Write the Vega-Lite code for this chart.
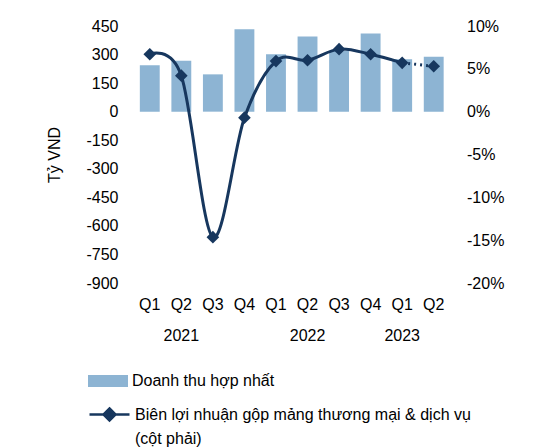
{
  "$schema": "https://vega.github.io/schema/vega-lite/v6.json",
  "autosize": {"type": "none"},
  "padding": {"left": 134, "top": 26, "right": 105.5, "bottom": 165},
  "width": 315.5,
  "height": 257,
  "background": "white",
  "config": {
    "font": "Liberation Sans",
    "view": {"stroke": null},
    "axis": {"grid": false, "domain": false, "ticks": false, "labelFont": "Liberation Sans", "labelFontSize": 16, "labelColor": "black", "titleFont": "Liberation Sans", "titleFontSize": 16, "titleFontWeight": "normal", "titleColor": "black"},
    "legend": {"labelFont": "Liberation Sans", "labelFontSize": 16, "labelColor": "black", "labelLimit": 0}
  },
  "data": {
    "values": [
      {"key": "2021-Q1", "revenue": 244, "margin": 6.7},
      {"key": "2021-Q2", "revenue": 268, "margin": 4.2},
      {"key": "2021-Q3", "revenue": 196, "margin": -14.65},
      {"key": "2021-Q4", "revenue": 433, "margin": -0.7},
      {"key": "2022-Q1", "revenue": 301, "margin": 5.9},
      {"key": "2022-Q2", "revenue": 395, "margin": 6.0},
      {"key": "2022-Q3", "revenue": 320, "margin": 7.3},
      {"key": "2022-Q4", "revenue": 410, "margin": 6.7},
      {"key": "2023-Q1", "revenue": 275, "margin": 5.7},
      {"key": "2023-Q2", "revenue": 288, "margin": 5.3}
    ]
  },
  "encoding": {
    "x": {"field": "key", "type": "ordinal", "sort": null, "scale": {"paddingInner": 0, "paddingOuter": 0}}
  },
  "layer": [
    {
      "mark": {"type": "bar", "width": {"band": 0.63}},
      "encoding": {
        "x": {"field": "key", "type": "ordinal", "sort": null, "title": null,
              "axis": {"orient": "bottom", "labelAngle": 0, "labelPadding": 13, "labelExpr": "slice(datum.label, 5)"}},
        "y": {"field": "revenue", "type": "quantitative", "title": "Tỷ VND",
              "scale": {"domain": [-900, 450], "nice": false, "zero": false},
              "axis": {"orient": "left", "values": [-900, -750, -600, -450, -300, -150, 0, 150, 300, 450], "labelPadding": 16, "titlePadding": 23, "labelExpr": "'' + datum.value"}},
        "fill": {"datum": "Doanh thu hợp nhất", "type": "nominal",
                 "scale": {"range": ["#8db4d3"]},
                 "legend": {"title": null, "orient": "none", "legendX": -46, "legendY": 335, "symbolType": "M-1,-0.3H1V0.3H-1Z", "symbolSize": 1600, "symbolStrokeWidth": 0, "labelOffset": 4}}
      }
    },
    {
      "layer": [
        {
          "transform": [{"filter": "datum.key != '2023-Q2'"}],
          "mark": {"type": "line", "interpolate": "cardinal", "strokeWidth": 3},
          "encoding": {
            "x": {"field": "key", "type": "ordinal", "sort": null, "title": null,
                  "axis": {"orient": "bottom", "labelAngle": 0, "labelPadding": 44, "values": ["2021-Q2", "2022-Q2", "2023-Q1"], "bandPosition": 1, "labelExpr": "slice(datum.label, 0, 4)"}},
            "y": {"field": "margin", "type": "quantitative", "title": null,
                  "scale": {"domain": [-20, 10], "nice": false, "zero": false},
                  "axis": {"orient": "right", "values": [-20, -15, -10, -5, 0, 5, 10], "labelPadding": 17, "labelExpr": "datum.value + '%'"}},
            "stroke": {"datum": "Biên lợi nhuận gộp mảng thương mại & dịch vụ", "type": "nominal",
                       "scale": {"range": ["#17375e"]},
                       "legend": {"title": null, "orient": "none", "legendX": -46, "legendY": 367, "symbolType": "M-1,0H1M0,-0.3L0.3,0L0,0.3L-0.3,0Z", "symbolSize": 1600, "symbolStrokeWidth": 2.5, "symbolFillColor": "#17375e", "labelOffset": 4,
                                  "labelExpr": "[datum.label, '(cột phải)']",
                                  "encode": {"labels": {"update": {"lineHeight": {"value": 24}}}}}}
          }
        },
        {
          "transform": [{"filter": "datum.key == '2023-Q1' || datum.key == '2023-Q2'"}],
          "mark": {"type": "line", "strokeWidth": 3, "strokeDash": [2, 4], "color": "#17375e"},
          "encoding": {
            "x": {"field": "key", "type": "ordinal", "sort": null},
            "y": {"field": "margin", "type": "quantitative"}
          }
        },
        {
          "mark": {"type": "point", "shape": "diamond", "filled": true, "opacity": 1, "size": 160, "color": "#17375e"},
          "encoding": {
            "x": {"field": "key", "type": "ordinal", "sort": null},
            "y": {"field": "margin", "type": "quantitative"}
          }
        }
      ]
    }
  ],
  "resolve": {"scale": {"y": "independent", "fill": "independent", "stroke": "independent"}, "axis": {"x": "independent"}, "legend": {"fill": "independent", "stroke": "independent"}}
}
